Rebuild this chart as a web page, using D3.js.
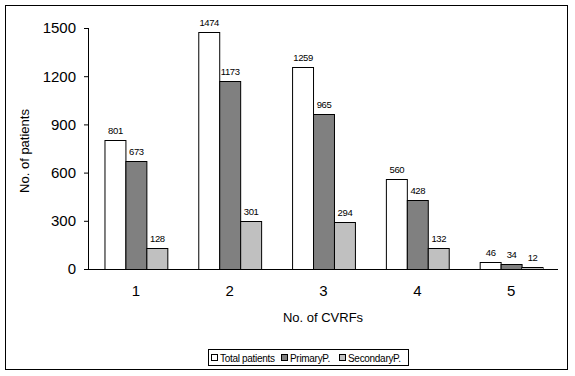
<!DOCTYPE html>
<html>
<head>
<meta charset="utf-8">
<script src="https://cdn.jsdelivr.net/npm/d3@7"></script>
<style>
  body { margin: 0; background: #fff; }
  svg { font-family: "Liberation Sans", Arial, sans-serif; }
</style>
</head>
<body>
<div id="plot"></div>
<script>
const categories = ['1', '2', '3', '4', '5'];
const seriesNames = ['Total patients', 'PrimaryP.', 'SecondaryP.'];
const totalPatients = [801, 1474, 1259, 560, 46];
const primaryP = [673, 1173, 965, 428, 34];
const secondaryP = [128, 301, 294, 132, 12];
const yTicks = [0, 300, 600, 900, 1200, 1500];
const colors = ['#ffffff', '#808080', '#c0c0c0'];

const series = [totalPatients, primaryP, secondaryP];

function plot() {
    var width = 575, height = 376;
    var margin = { top: 28, right: 17, bottom: 107, left: 89 },
        w = width - margin.left - margin.right,
        h = height - margin.top - margin.bottom;

    var svg = d3.select('#plot').append('svg')
        .attr('width', width)
        .attr('height', height);

    // outer frame
    svg.append('rect')
        .attr('x', 5.5).attr('y', 5.5)
        .attr('width', 562).attr('height', 364)
        .attr('fill', '#fff').attr('stroke', '#000').attr('stroke-width', 1);

    var g = svg.append('g')
        .attr('transform', `translate(${margin.left},${margin.top})`);

    var x = d3.scaleBand()
        .domain(categories)
        .range([0, w])
        .paddingInner(0.33)
        .paddingOuter(0.165);
    var xs = d3.scaleBand()
        .domain(d3.range(series.length))
        .range([0, x.bandwidth()]);
    var y = d3.scaleLinear()
        .domain([0, 1500])
        .range([h, 0]);

    // y axis
    var yAxis = g.append('g')
        .call(d3.axisLeft(y).tickValues(yTicks).tickFormat(d3.format('d')).tickSize(5).tickPadding(8));
    yAxis.select('.domain').attr('d', `M-0.5,${y(1500)}V${h + 0.5}`);
    yAxis.selectAll('text').attr('font-size', 15).attr('fill', '#000');
    yAxis.attr('font-family', null);

    // bars
    var groups = g.selectAll('.grp')
        .data(categories)
        .join('g')
        .attr('transform', d => `translate(${x(d)},0)`);

    series.forEach((vals, si) => {
        groups.append('rect')
            .attr('x', xs(si) + 0.5)
            .attr('y', (d, i) => Math.round(y(vals[i])) + 0.5)
            .attr('width', xs.bandwidth())
            .attr('height', (d, i) => h - Math.round(y(vals[i])))
            .attr('fill', colors[si])
            .attr('stroke', '#000')
            .attr('stroke-width', 1);
        groups.append('text')
            .attr('x', xs(si) + xs.bandwidth() / 2 + 0.5)
            .attr('y', (d, i) => y(vals[i]) - 6)
            .attr('text-anchor', 'middle')
            .attr('font-size', 9.5)
            .attr('letter-spacing', -0.4)
            .text((d, i) => vals[i]);
    });

    // x axis
    var xAxis = g.append('g')
        .attr('transform', `translate(0,${h})`)
        .call(d3.axisBottom(x).tickSize(0).tickPadding(16));
    xAxis.select('.domain').attr('d', `M-0.5,0.5H${w}`);
    xAxis.selectAll('text').attr('font-size', 15).attr('fill', '#000');
    xAxis.attr('font-family', null);

    // axis titles
    svg.append('text')
        .attr('x', 323).attr('y', 322)
        .attr('text-anchor', 'middle')
        .attr('font-size', 13)
        .text('No. of CVRFs');
    svg.append('text')
        .attr('transform', 'translate(29,151) rotate(-90)')
        .attr('text-anchor', 'middle')
        .attr('font-size', 13)
        .text('No. of patients');

    // legend
    var lg = svg.append('g').attr('transform', 'translate(208,349)');
    lg.append('rect')
        .attr('x', 0.5).attr('y', 0.5)
        .attr('width', 200).attr('height', 16)
        .attr('fill', '#fff').attr('stroke', '#000');
    var offsets = [3, 73, 131];
    seriesNames.forEach((name, i) => {
        lg.append('rect')
            .attr('x', offsets[i] + 0.5).attr('y', 5.5)
            .attr('width', 6).attr('height', 6)
            .attr('fill', colors[i]).attr('stroke', '#000');
        lg.append('text')
            .attr('x', offsets[i] + 9).attr('y', 12.5)
            .attr('font-size', 10)
            .attr('letter-spacing', -0.3)
            .text(name);
    });
}

plot();
</script>
</body>
</html>
